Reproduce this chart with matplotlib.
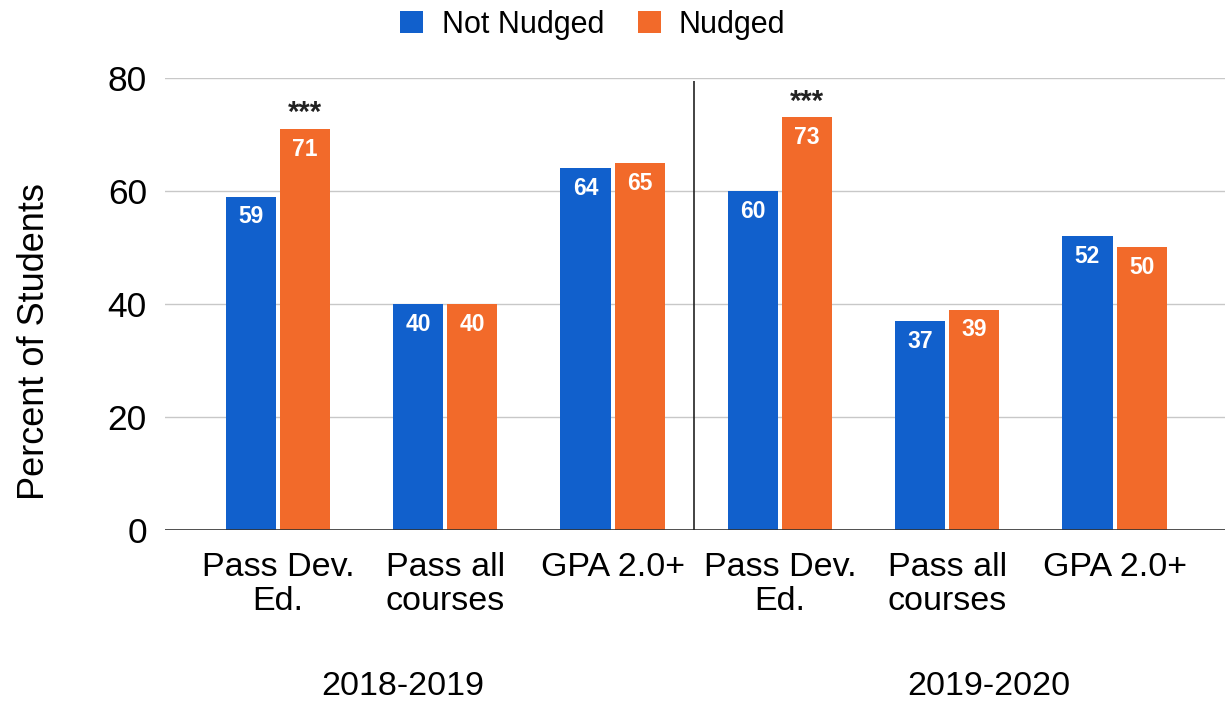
import matplotlib
matplotlib.use('Agg')
import matplotlib.pyplot as plt
import numpy as np

plt.rcParams['font.family'] = ['Liberation Sans', 'DejaVu Sans']

categories = ['Pass Dev.\nEd.', 'Pass all\ncourses', 'GPA 2.0+',
              'Pass Dev.\nEd.', 'Pass all\ncourses', 'GPA 2.0+']
not_nudged = [59, 40, 64, 60, 37, 52]
nudged = [71, 40, 65, 73, 39, 50]
stars = ['***', '', '', '***', '', '']
years = ['2018-2019', '2019-2020']

blue = '#1160CC'
orange = '#F26A2A'

fig = plt.figure(figsize=(12.25, 7.02), dpi=100)
ax = fig.add_axes([0.1347, 0.245, 0.8653, 0.644])

x = np.arange(len(categories))
w = 0.3
off = 0.162
b1 = ax.bar(x - off, not_nudged, w, color=blue, label='Not Nudged', zorder=3)
b2 = ax.bar(x + off, nudged, w, color=orange, label='Nudged', zorder=3)

for rect, v in zip(b1, not_nudged):
    ax.text(rect.get_x() + rect.get_width() / 2, v - 3.6, str(v), ha='center', va='center',
            color='white', fontsize=16.5, fontweight='bold', zorder=4)
for rect, v, s in zip(b2, nudged, stars):
    ax.text(rect.get_x() + rect.get_width() / 2, v - 3.6, str(v), ha='center', va='center',
            color='white', fontsize=16.5, fontweight='bold', zorder=4)
    if s:
        ax.text(rect.get_x() + rect.get_width() / 2, v + 2.8, s, ha='center', va='center',
                color='#222222', fontsize=21, fontweight='bold', zorder=4)

ax.set_xlim(-0.675, 5.66)
ax.set_ylim(0, 80)
ax.set_yticks([0, 20, 40, 60, 80])
ax.yaxis.grid(True, color='#c8c8c8', linewidth=1, zorder=0)
ax.axhline(0, color='#333333', linewidth=1.2, zorder=5)
ax.vlines(2.485, 0, 79.4, color='#222222', linewidth=1.2, zorder=5)

for s in ax.spines.values():
    s.set_visible(False)
ax.set_xticks(x)
ax.set_xticklabels(categories, fontsize=24.5, linespacing=1.1)
ax.tick_params(axis='x', length=0, pad=16)
ax.tick_params(axis='y', length=0, pad=13, labelsize=25.5)
ax.set_ylabel('Percent of Students', fontsize=26)
ax.yaxis.set_label_coords(-0.107, 0.416)

ax.text(0.747, -27.7, years[0], ha='center', va='center', fontsize=24.5)
ax.text(4.25, -27.7, years[1], ha='center', va='center', fontsize=24.5)

fig.legend(loc='upper center', bbox_to_anchor=(0.484, 1.025), ncol=2, frameon=False,
           fontsize=22, handlelength=0.75, handleheight=0.75, columnspacing=1.1, handletextpad=0.6)

fig.savefig('out.png', dpi=100)
